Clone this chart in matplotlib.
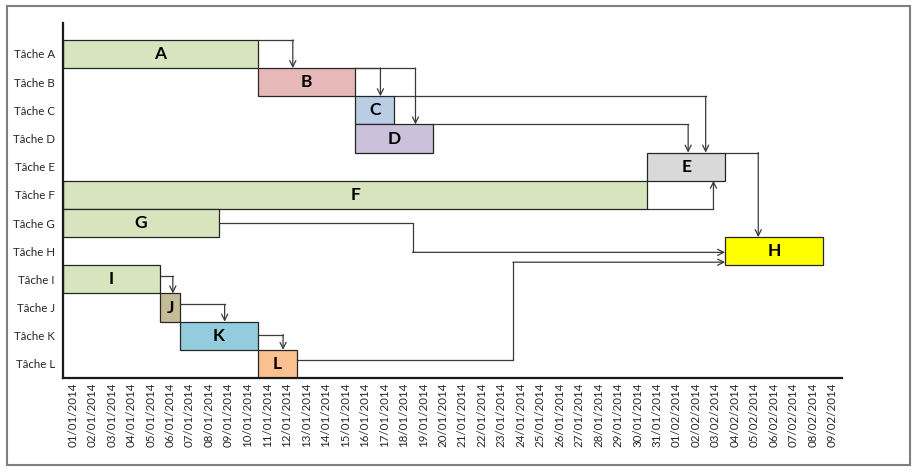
import pandas as pd
import matplotlib.pyplot as plt
from matplotlib.patches import Rectangle

plt.rcParams['font.family'] = ['Lato', 'DejaVu Sans']

# tâches du planning
tasks = ['A', 'B', 'C', 'D', 'E', 'F', 'G', 'H', 'I', 'J', 'K', 'L']
starts = ['2014-01-01', '2014-01-11', '2014-01-16', '2014-01-16', '2014-01-31', '2014-01-01',
          '2014-01-01', '2014-02-04', '2014-01-01', '2014-01-06', '2014-01-07', '2014-01-11']
durations = [10, 5, 2, 4, 4, 30, 8, 5, 5, 1, 4, 2]
colors = ['#D7E4BD', '#E6B9B8', '#B9CDE5', '#CCC1DA', '#D9D9D9', '#D7E4BD',
          '#D7E4BD', '#FFFF00', '#D7E4BD', '#C4BD97', '#93CDDD', '#FAC090']

first_day = '2014-01-01'
n_days = 40

# liens (prédécesseur, successeur, décalage de départ, coude x, niveau intermédiaire)
links = [
    ('A', 'B', -0.5, 1.8, None),
    ('B', 'C', -0.5, 1.3, None),
    ('B', 'D', -0.5, 3.1, None),
    ('C', 'E', -0.5, 16.0, None),
    ('D', 'E', -0.5, 13.1, None),
    ('E', 'H', -0.5, 1.7, None),
    ('F', 'E', 0.5, 3.4, None),
    ('G', 'H', 0.0, 9.95, 7.04),
    ('L', 'H', -0.14, 11.1, 7.39),
    ('I', 'J', -0.11, 0.64, None),
    ('J', 'K', -0.11, 2.3, None),
    ('K', 'L', -0.04, 1.3, None),
]

t0 = pd.Timestamp(first_day)
left = [(pd.Timestamp(s) - t0).days for s in starts]
rows = list(range(len(tasks)))
idx = {t: i for i, t in enumerate(tasks)}

fig = plt.figure(figsize=(9.24, 4.75), dpi=100)
fig.patches.append(Rectangle((7 / 924, 1 - 465 / 475), 903 / 924, 459 / 475,
                             transform=fig.transFigure, fill=False,
                             edgecolor='#7F7F7F', linewidth=1.5))
ax = fig.add_axes([63 / 924, 1 - 378 / 475, 779 / 924, 355 / 475])

ax.barh(rows, durations, left=left, height=1.0, color=colors,
        edgecolor='#262626', linewidth=0.9, zorder=2)

for i, t in enumerate(tasks):
    ax.text(left[i] + durations[i] / 2, i, t, ha='center', va='center',
            fontsize=12.5, fontweight='bold', color='black', zorder=3)

line_kw = dict(color='#3A3A3A', linewidth=0.9, zorder=1)
for p, s, dy, dx, mid in links:
    ip, is_ = idx[p], idx[s]
    x0 = left[ip] + durations[ip]
    y0 = ip + dy
    xe = x0 + dx
    if mid is None:
        # descend (ou monte) vers le bord de la barre suivante
        ye = is_ - 0.5 if is_ > ip else is_ + 0.5
        ax.plot([x0, xe], [y0, y0], **line_kw)
        ax.annotate('', xy=(xe, ye), xytext=(xe, y0),
                    arrowprops=dict(arrowstyle='->', color='#3A3A3A', lw=0.9,
                                    shrinkA=0, shrinkB=0, mutation_scale=11))
    else:
        xt = left[is_]
        ax.plot([x0, xe, xe], [y0, y0, mid], **line_kw)
        ax.annotate('', xy=(xt, mid), xytext=(xe, mid),
                    arrowprops=dict(arrowstyle='->', color='#3A3A3A', lw=0.9,
                                    shrinkA=0, shrinkB=0, mutation_scale=11))

ax.set_xlim(0, n_days)
ax.set_ylim(11.5, -1.1)

dates = pd.date_range(first_day, periods=n_days, freq='D')
ax.set_xticks([d + 0.5 for d in range(n_days)])
ax.set_xticklabels([d.strftime('%d/%m/%Y') for d in dates], rotation=90,
                   fontsize=8.3, color='#262626')
ax.set_yticks(rows)
ax.set_yticklabels(['Tâche ' + t for t in tasks], fontsize=8.3, color='#262626')
ax.tick_params(axis='x', length=0, pad=3)
ax.tick_params(axis='y', length=0, pad=6)

for side in ['top', 'right']:
    ax.spines[side].set_visible(False)
for side in ['left', 'bottom']:
    ax.spines[side].set_linewidth(1.6)
    ax.spines[side].set_color('#1A1A1A')

fig.savefig('out.png', dpi=100)
